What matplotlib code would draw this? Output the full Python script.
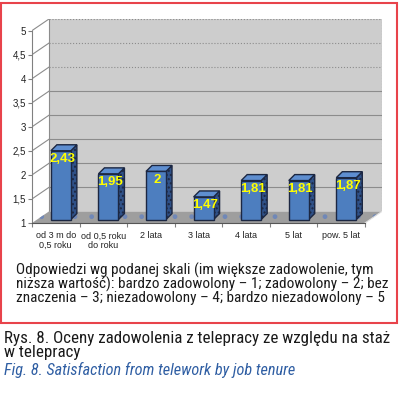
import numpy as np
import matplotlib
matplotlib.use("Agg")
import matplotlib.pyplot as plt
from matplotlib.patches import Polygon, Rectangle
from matplotlib import font_manager

# ---------- data ----------
categories = ["od 3 m do\n0,5 roku", "od 0,5 roku\ndo roku", "2 lata", "3 lata",
              "4 lata", "5 lat", "pow. 5 lat"]
values = [2.43, 1.95, 2.0, 1.47, 1.81, 1.81, 1.87]
value_labels = ["2,43", "1,95", "2", "1,47", "1,81", "1,81", "1,87"]
yticks = [1, 1.5, 2, 2.5, 3, 3.5, 4, 4.5, 5]
ytick_labels = ["1", "1,5", "2", "2,5", "3", "3,5", "4", "4,5", "5"]

note_lines = ["Odpowiedzi wg podanej skali (im większe zadowolenie, tym",
              "niższa wartość): bardzo zadowolony – 1; zadowolony – 2; bez",
              "znaczenia – 3; niezadowolony – 4; bardzo niezadowolony – 5"]
caption_pl = ["Rys. 8. Oceny zadowolenia z telepracy ze względu na staż", "w telepracy"]
caption_en = "Fig. 8. Satisfaction from telework by job tenure"

# ---------- style ----------
WALL = "#CDCDCD"; FLOOR = "#9E9E9E"; GRID = "#8C8C8C"
BAR = "#4D7EBF"; BAR_SIDE = "#2F5188"; BAR_TOP = "#5E8ED0"; EDGE = "#1C2742"
YELLOW = "#FFFF00"; RED = "#E8434B"; BLUE_TXT = "#2F5EA3"
installed = {f.name for f in font_manager.fontManager.ttflist}
TXT_FONT = next((f for f in ["Liberation Sans Narrow", "Roboto Condensed", "Noto Sans Condensed",
                             "Open Sans Condensed", "Lato"] if f in installed), "Roboto")
plt.rcParams["font.family"] = ["Liberation Sans", "DejaVu Sans"]

W, H = 400, 394
fig = plt.figure(figsize=(W / 100, H / 100), dpi=100)
ax = fig.add_axes([32 / W, (H - 223) / H, 350 / W, 204 / H])

n = len(values)
xmax = 350 / (333 / n)
ymax = 1 + 204 / 48.1
DX, DY = xmax - n, ymax - 5          # depth offset of the back wall
F = 0.3                               # depth position of bar front faces
BW = 0.42
BDX, BDY = 0.126, 0.124               # bar depth

ax.set_xlim(0, xmax)
ax.set_ylim(1, ymax)

# back wall, floor, gridlines
ax.add_patch(Rectangle((DX, 1 + DY), n, 4, fc=WALL, ec="none", zorder=0))
for v in yticks[1:]:
    ls = ":" if v >= 4 else "-"
    ax.plot([0, DX], [v, v + DY], color=GRID, lw=0.8, zorder=1)
    ax.plot([DX, DX + n], [v + DY, v + DY], color=GRID, lw=0.8, ls=ls, zorder=1)
ax.plot([DX, DX], [1 + DY, 5 + DY], color=GRID, lw=0.8, zorder=1)
ax.plot([DX + n, DX + n], [1 + DY, 5 + DY], color=GRID, lw=0.8, ls=":", zorder=1)
ax.add_patch(Polygon([(0, 1), (n, 1), (n + DX, 1 + DY), (DX, 1 + DY)],
                     fc=FLOOR, ec="#7088B8", hatch=".", lw=0, zorder=1))
ax.plot([n, n + DX], [1, 1 + DY], color="#E0E0E0", lw=0.8, zorder=1)

# bars (front faces) + 3d side/top
xc = np.arange(n) + 0.5 + F * DX
bars = ax.bar(xc, np.array(values) - 1, width=BW, bottom=1 + F * DY,
              color=BAR, edgecolor=EDGE, lw=1.0, zorder=3)
for rect, lab in zip(bars, value_labels):
    x0, y0 = rect.get_x(), rect.get_y()
    x1, y1 = x0 + rect.get_width(), y0 + rect.get_height()
    ax.add_patch(Polygon([(x1, y0), (x1 + BDX, y0 + BDY), (x1 + BDX, y1 + BDY), (x1, y1)],
                         fc=BAR_SIDE, ec=EDGE, lw=1.0, hatch="....", zorder=2))
    ax.add_patch(Polygon([(x0, y1), (x1, y1), (x1 + BDX, y1 + BDY), (x0 + BDX, y1 + BDY)],
                         fc=BAR_TOP, ec=EDGE, lw=1.0, zorder=2))
    ax.text((x0 + x1) / 2 + 0.03, y1 - 0.17, lab, ha="center", va="center", color=YELLOW,
            fontsize=9.5, fontweight="bold", zorder=5)

# axes
for sp in ("top", "right"):
    ax.spines[sp].set_visible(False)
ax.spines["left"].set_bounds(1, 5)
ax.spines["left"].set_color("#808080")
ax.spines["bottom"].set_bounds(0, n)
ax.spines["bottom"].set_color("#555555")
ax.set_yticks(yticks)
ax.set_yticklabels(ytick_labels, fontsize=7, color="#222222")
ax.tick_params(axis="y", length=3, width=0.8, color="#808080", pad=1.5)
ax.set_xticks(np.arange(n + 1))
ax.set_xticklabels([])
ax.set_xticks(np.arange(n) + 0.5, minor=True)
ax.set_xticklabels(categories, minor=True, fontsize=6.5, color="#222222", linespacing=1.1)
ax.tick_params(axis="x", which="major", length=3, width=0.8, color="#808080")
ax.tick_params(axis="x", which="minor", length=0, pad=6)

# frame and text below the chart
fig.add_artist(Rectangle((1 / W, 1 - 323 / H), 396 / W, 320 / H, transform=fig.transFigure,
                         fill=False, ec=RED, lw=1.5))


def fit_width(texts, target_px):
    # scale a group of texts so that the widest one spans target_px
    r = fig.canvas.get_renderer()
    w = max(t.get_window_extent(r).width for t in texts)
    for t in texts:
        t.set_fontsize(t.get_fontsize() * target_px / w)


note = [fig.text(16 / W, 1 - yb / H, line, family=TXT_FONT, fontsize=10, color="#1A1A1A",
                 va="baseline") for line, yb in zip(note_lines, [275, 288.5, 302])]
fit_width(note, 370)
cap = [fig.text(4 / W, 1 - yb / H, line, family=TXT_FONT, fontsize=10, color="#1A1A1A",
                va="baseline") for line, yb in zip(caption_pl, [343, 356.5])]
fit_width(cap, 384)
en = fig.text(4 / W, 1 - 375 / H, caption_en, family=TXT_FONT, fontsize=10, style="italic",
              color=BLUE_TXT, va="baseline")
fit_width([en], 291)

fig.savefig("out.png", dpi=100)
